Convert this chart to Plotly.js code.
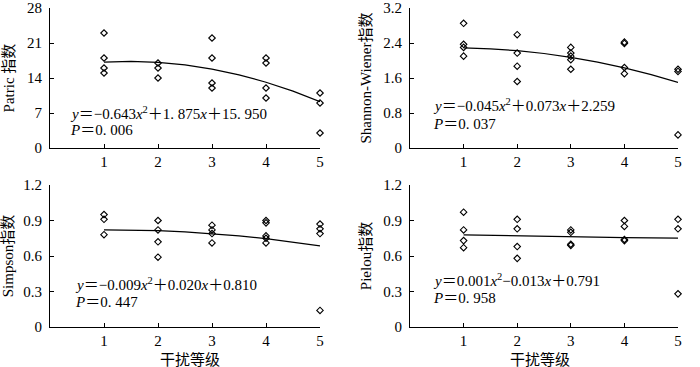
<!DOCTYPE html>
<html>
<head>
<meta charset="utf-8">
<script src="https://cdn.plot.ly/plotly-3.0.1.min.js"></script>
<style>html,body{margin:0;padding:0;background:#fff}#chart{width:700px;height:367px}</style>
</head>
<body>
<div id="chart"></div>
<script>
// ---- data ----
const xTickVals = [1, 2, 3, 4, 5];
const xTitle = '干扰等级';

const patricX = [1,1,1,1, 2,2,2, 3,3,3,3, 4,4,4,4, 5,5,5];
const patricY = [23,18,16,15, 17,16,14, 22,18,13,12, 18,17,12,10, 11,9,3];

const shannonX = [1,1,1,1, 2,2,2,2, 3,3,3,3,3, 4,4,4,4, 5,5,5];
const shannonY = [2.85,2.37,2.30,2.10, 2.59,2.17,1.87,1.52, 2.30,2.17,2.10,2.02,1.80, 2.42,2.39,1.84,1.70, 1.80,1.75,0.30];

const simpsonX = [1,1,1, 2,2,2,2, 3,3,3,3, 4,4,4,4,4, 5,5,5,5];
const simpsonY = [0.95,0.91,0.78, 0.90,0.82,0.72,0.59, 0.86,0.82,0.79,0.71, 0.90,0.88,0.77,0.75,0.71, 0.87,0.83,0.79,0.14];

const pielouX = [1,1,1,1, 2,2,2,2, 3,3,3,3, 4,4,4,4, 5,5,5];
const pielouY = [0.97,0.82,0.73,0.67, 0.91,0.83,0.68,0.58, 0.82,0.80,0.70,0.69, 0.90,0.85,0.74,0.73, 0.91,0.83,0.28];

// fitted curves as drawn
const fitX = [1, 1.5, 2, 2.5, 3, 3.5, 4, 4.5, 5];
const patricFit  = [17.18, 17.32, 17.13, 16.62, 15.79, 14.64, 13.16, 11.37, 9.25];
const shannonFit = [2.287, 2.267, 2.225, 2.160, 2.073, 1.963, 1.831, 1.676, 1.499];
const simpsonFit = [0.821, 0.820, 0.814, 0.804, 0.789, 0.770, 0.746, 0.718, 0.685];
const pielouFit  = [0.779, 0.774, 0.769, 0.765, 0.761, 0.758, 0.755, 0.753, 0.751];

const yTitles = ['Patric 指数', 'Shannon-Wiener指数', 'Simpson指数', 'Pielou指数'];
const yTickVals = [
  [0, 7, 14, 21, 28],
  [0, 0.8, 1.6, 2.4, 3.2],
  [0, 0.3, 0.6, 0.9, 1.2],
  [0, 0.3, 0.6, 0.9, 1.2]
];
const yTickText = [
  ['0', '7', '14', '21', '28'],
  ['0', '0.8', '1.6', '2.4', '3.2'],
  ['0', '0.3', '0.6', '0.9', '1.2'],
  ['0', '0.3', '0.6', '0.9', '1.2']
];
const yRanges = [[0, 28], [0, 3.2], [0, 1.2], [0, 1.2]];
const eqTexts = [
  '<i>y</i>＝−0.643<i>x</i><sup>2</sup>＋1. 875<i>x</i>＋15. 950',
  '<i>y</i>＝−0.045<i>x</i><sup>2</sup>＋0.073<i>x</i>＋2.259',
  '<i>y</i>＝−0.009<i>x</i><sup>2</sup>＋0.020<i>x</i>＋0.810',
  '<i>y</i>＝0.001<i>x</i><sup>2</sup>−0.013<i>x</i>＋0.791'
];
const pTexts = ['<i>P</i>＝0. 006', '<i>P</i>＝0. 037', '<i>P</i>＝0. 447', '<i>P</i>＝0. 958'];

// ---- build ----
const FONT = '"Liberation Serif", "Times New Roman", "Noto Sans CJK SC", serif';
const W = 700, H = 367;
const px = v => v / W;
const py = v => (H - v) / H;

const pts = [[patricX, patricY], [shannonX, shannonY], [simpsonX, simpsonY], [pielouX, pielouY]];
const fits = [patricFit, shannonFit, simpsonFit, pielouFit];
const traces = [];
pts.forEach((p, i) => {
  const sfx = i === 0 ? '' : String(i + 1);
  traces.push({
    type: 'scatter', mode: 'lines', x: fitX, y: fits[i],
    xaxis: 'x' + sfx, yaxis: 'y' + sfx,
    line: {color: '#000', width: 1.2}, hoverinfo: 'skip', showlegend: false
  });
  traces.push({
    type: 'scatter', mode: 'markers', x: p[0], y: p[1],
    xaxis: 'x' + sfx, yaxis: 'y' + sfx, cliponaxis: false,
    marker: {symbol: 'diamond-open', size: 5, color: '#000', line: {color: '#000', width: 1.1}},
    showlegend: false
  });
});

const xDom = [[px(50), px(320)], [px(410), px(678)]];
const yDom = [[py(148), py(8)], [py(327), py(185)]];

const layout = {
  width: W, height: H,
  margin: {l: 0, r: 0, t: 0, b: 0},
  paper_bgcolor: '#fff', plot_bgcolor: '#fff',
  font: {family: FONT, size: 15, color: '#000'},
  showlegend: false,
  annotations: []
};

const eqPos = [[68, 113, 130], [431, 105, 124], [73, 284, 302], [431, 280, 298]];
const xTitlePos = [190, 540];

for (let i = 0; i < 4; i++) {
  const sfx = i === 0 ? '' : String(i + 1);
  const col = i % 2, row = Math.floor(i / 2);
  layout['xaxis' + sfx] = {
    domain: xDom[col], anchor: 'y' + sfx, range: [0, 5],
    tickvals: xTickVals, ticks: 'inside', ticklen: 4, tickwidth: 1, tickcolor: '#000',
    showline: true, linecolor: '#000', linewidth: 1, showgrid: false, zeroline: false,
    tickfont: {family: FONT, size: 15}, ticklabeloverflow: 'allow',
    title: {text: ''}
  };
  layout['yaxis' + sfx] = {
    domain: yDom[row], anchor: 'x' + sfx, range: yRanges[i],
    tickvals: yTickVals[i], ticktext: yTickText[i],
    ticks: 'inside', ticklen: 4, tickwidth: 1, tickcolor: '#000',
    showline: true, linecolor: '#000', linewidth: 1, showgrid: false, zeroline: false,
    tickfont: {family: FONT, size: 15}, ticklabeloverflow: 'allow', ticklabelstandoff: 4,
    title: {text: yTitles[i], font: {family: FONT, size: 15}, standoff: 8}
  };
  layout.annotations.push({
    xref: 'paper', yref: 'paper', x: px(eqPos[i][0]), y: py(eqPos[i][1]),
    xanchor: 'left', yanchor: 'middle', showarrow: false, text: eqTexts[i],
    font: {family: FONT, size: 15}
  });
  layout.annotations.push({
    xref: 'paper', yref: 'paper', x: px(eqPos[i][0]), y: py(eqPos[i][2]),
    xanchor: 'left', yanchor: 'middle', showarrow: false, text: pTexts[i],
    font: {family: FONT, size: 15}
  });
}
// x-axis titles of the bottom row
xTitlePos.forEach(xp => {
  layout.annotations.push({
    xref: 'paper', yref: 'paper', x: px(xp), y: py(359),
    xanchor: 'center', yanchor: 'middle', showarrow: false, text: xTitle,
    font: {family: FONT, size: 15}
  });
});

Plotly.newPlot('chart', traces, layout, {staticPlot: true, displayModeBar: false});
</script>
</body>
</html>
